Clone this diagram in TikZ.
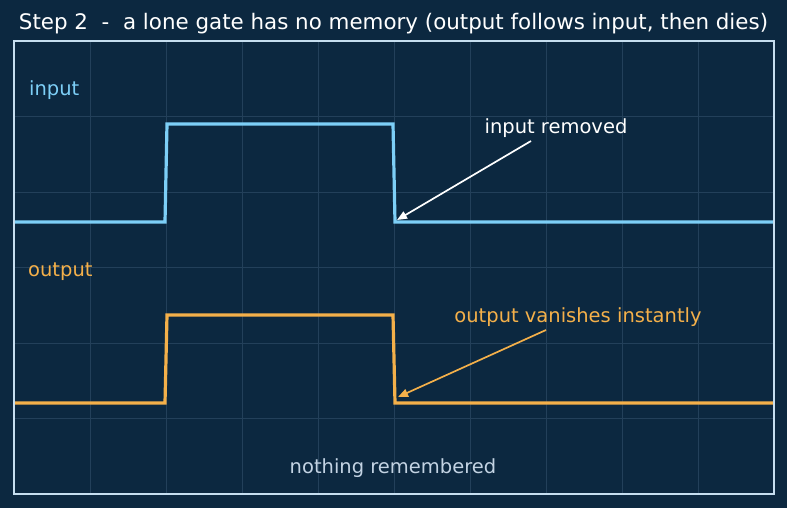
\documentclass[tikz,border=0pt]{standalone}
\usepackage{fontspec}
\setmainfont{DejaVu Sans}
\usetikzlibrary{arrows.meta}
\definecolor{bg}{HTML}{0C2840}
\definecolor{gridc}{HTML}{23405A}
\definecolor{framec}{HTML}{C6DEF0}
\definecolor{inc}{HTML}{7DCFF7}
\definecolor{outc}{HTML}{F4B04A}
\definecolor{notec}{HTML}{C3D3E3}
\tikzset{
  lbl/.style={inner sep=0pt, font=\fontsize{19.5}{23}\selectfont},
  sig/.style={line width=3.2pt, line join=miter},
  note/.style={line width=1.7pt, -{Triangle[length=10pt,width=8pt]}},
}
\begin{document}
\begin{tikzpicture}[x=1pt,y=-1pt]
\useasboundingbox (0,0) rectangle (787,508);
\fill[bg] (0,0) rectangle (787,508);
% grid
\foreach \gx in {90,166,242,318,394,470,546,622,698}
  \draw[gridc, line width=0.8pt] (\gx,41) -- (\gx,494);
\foreach \gy in {116.5,192,267.5,343,418.5}
  \draw[gridc, line width=0.8pt] (14,\gy) -- (774,\gy);
% title
\node[lbl, white, font=\fontsize{21.4}{25}\selectfont] (title) at (393.5,24) {Step 2\ \ -\ \ a lone gate has no memory (output follows input, then dies)};
% signals
\draw[sig, inc] (14,222) -- (165,222) -- (167,124) -- (393,124) -- (395,222) -- (774,222);
\draw[sig, outc] (14,403) -- (165,403) -- (167,315) -- (393,315) -- (395,403) -- (774,403);
% frame
\draw[framec, line width=1.6pt] (14,41) rectangle (774,494);
% labels
\node[lbl, inc, anchor=west] (inlbl) at (29,90) {input};
\node[lbl, outc, anchor=west] (outlbl) at (28,272) {output};
\node[lbl, white] (inrem) at (556,128) {input removed};
\node[lbl, outc] (outvan) at (578,317) {output vanishes instantly};
\node[lbl, notec] (nothing) at (393,468) {nothing remembered};
% annotation arrows
\coordinate (a1s) at (531,141);
\coordinate (a1e) at (397,220);
\coordinate (a2s) at (546,330);
\coordinate (a2e) at (398,397);
\draw[note, white] (a1s) -- (a1e);
\draw[note, outc] (a2s) -- (a2e);
\end{tikzpicture}
\end{document}
